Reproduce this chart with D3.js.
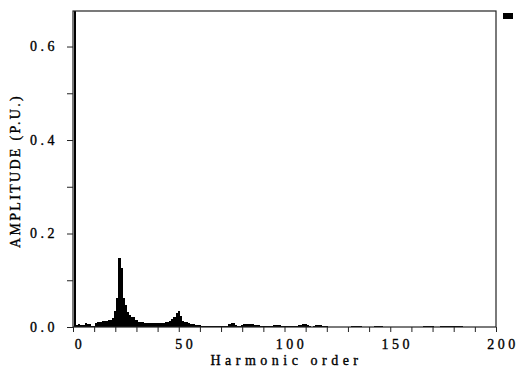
<!DOCTYPE html>
<html>
<head>
<meta charset="utf-8">
<script src="https://cdn.jsdelivr.net/npm/d3@7"></script>
<style>
  body { margin: 0; background: #fff; }
  text { font-family: "Liberation Serif", "DejaVu Serif", serif; fill: #000; stroke: #000; stroke-width: 0.35px; }
</style>
</head>
<body>
<div id="chart"></div>
<script>
// harmonic amplitudes (p.u.), order 1 .. 200
var amplitude = [
  1.0, 0.005, 0.006, 0.005, 0.005, 0.008, 0.006, 0.007, 0.002, 0.002,
  0.009, 0.010, 0.010, 0.012, 0.012, 0.012, 0.014, 0.015, 0.020, 0.035,
  0.062, 0.148, 0.127, 0.061, 0.047, 0.033, 0.026, 0.022, 0.022, 0.015,
  0.011, 0.011, 0.010, 0.009, 0.009, 0.008, 0.009, 0.008, 0.008, 0.008,
  0.008, 0.008, 0.009, 0.010, 0.010, 0.012, 0.017, 0.022, 0.029, 0.034,
  0.023, 0.013, 0.011, 0.011, 0.008, 0.006, 0.006, 0.004, 0.004, 0.004,
  0.003, 0.003, 0.0015, 0.0015, 0.0015, 0.0015, 0.0015, 0.0015, 0.0015, 0.002,
  0.002, 0.002, 0.003, 0.006, 0.009, 0.008, 0.005, 0.0015, 0.0015, 0.005,
  0.006, 0.006, 0.006, 0.006, 0.006, 0.005, 0.005, 0.004, 0.003, 0.003,
  0.003, 0.003, 0.003, 0.003, 0.005, 0.005, 0.005, 0.004, 0.002, 0.002,
  0.002, 0.003, 0.003, 0.003, 0.003, 0.002, 0.004, 0.005, 0.006, 0.006,
  0.004, 0.003, 0.001, 0.003, 0.004, 0.004, 0.004, 0.003, 0.003, 0.002,
  0.0005, 0.0005, 0.0005, 0.0005, 0.0005, 0.0005, 0.0005, 0.0005, 0.0005, 0.0005,
  0.0005, 0.002, 0.002, 0.002, 0.002, 0.002, 0.001, 0.0005, 0.0005, 0.0005,
  0.0005, 0.0005, 0.002, 0.002, 0.002, 0.002, 0.0008, 0.0008, 0.0008, 0.0008,
  0.0008, 0.0008, 0.0008, 0.0008, 0.0008, 0.0008, 0.0008, 0.0008, 0.0008, 0.0008,
  0.0008, 0.0008, 0.0008, 0.0008, 0.0008, 0.003, 0.003, 0.003, 0.003, 0.003,
  0.0005, 0.0005, 0.0005, 0.0015, 0.0015, 0.0015, 0.0015, 0.0015, 0.0015, 0.0015,
  0.0015, 0.0015, 0.0015, 0.0015, 0, 0, 0, 0, 0, 0,
  0, 0, 0, 0, 0, 0, 0, 0, 0, 0
];
var orders = amplitude.map((d, i) => i + 1);

var xTicks = [0, 10, 20, 30, 40, 50, 60, 70, 80, 90, 100, 110, 120, 130, 140, 150, 160, 170, 180, 190, 200];
var xLabels = [0, 50, 100, 150, 200];
var yTicks = [0, 0.1, 0.2, 0.3, 0.4, 0.5, 0.6];
var yLabels = [0, 0.2, 0.4, 0.6];

var svgWidth = 518;
var svgHeight = 369;
var margin = { top: 11, right: 22, bottom: 42, left: 73 };
var width = svgWidth - margin.left - margin.right;
var height = svgHeight - margin.top - margin.bottom;

var svg = d3.select("#chart")
  .append("svg")
  .attr("width", svgWidth)
  .attr("height", svgHeight);

var chartGroup = svg.append("g")
  .attr("transform", `translate(${margin.left}, ${margin.top})`);

var xScale = d3.scaleLinear().domain([0, 200]).range([0, width]);
var yScale = d3.scaleLinear().domain([0, 0.676]).range([height, 0]);

svg.append("defs").append("clipPath")
  .attr("id", "plotClip")
  .append("rect")
  .attr("width", width)
  .attr("height", height);

// bars
chartGroup.append("g")
  .attr("clip-path", "url(#plotClip)")
  .selectAll("rect")
  .data(orders)
  .enter()
  .append("rect")
  .attr("x", d => xScale(d - 0.5))
  .attr("width", xScale(1) - xScale(0))
  .attr("y", (d, i) => yScale(amplitude[i]))
  .attr("height", (d, i) => height - yScale(amplitude[i]))
  .attr("fill", "#000")
  .attr("shape-rendering", "crispEdges");

// frame
chartGroup.append("rect")
  .attr("width", width)
  .attr("height", height)
  .attr("fill", "none")
  .attr("stroke", "#222")
  .attr("stroke-width", 1.2);

// x axis
var xAxis = chartGroup.append("g")
  .attr("transform", `translate(0, ${height})`)
  .call(d3.axisBottom(xScale).tickValues(xTicks).tickSize(5).tickFormat(""));
xAxis.select(".domain").remove();
xAxis.selectAll("line").attr("stroke", "#222");

chartGroup.append("g")
  .selectAll("text")
  .data(xLabels)
  .enter()
  .append("text")
  .attr("x", d => xScale(d) + 7)
  .attr("y", height + 22)
  .attr("text-anchor", "middle")
  .style("font-size", "14px")
  .style("letter-spacing", "3.5px")
  .text(d => d);

// y axis
var yAxis = chartGroup.append("g")
  .call(d3.axisLeft(yScale).tickValues(yTicks).tickSize(6).tickFormat(""));
yAxis.select(".domain").remove();
yAxis.selectAll("line").attr("stroke", "#222");

chartGroup.append("g")
  .selectAll("text")
  .data(yLabels)
  .enter()
  .append("text")
  .attr("x", -15)
  .attr("y", d => yScale(d))
  .attr("dy", "0.35em")
  .attr("text-anchor", "end")
  .style("font-size", "14px")
  .style("letter-spacing", "3.5px")
  .text(d => d3.format(".1f")(d));

// axis titles
svg.append("text")
  .attr("x", margin.left + width / 2 + 2)
  .attr("y", 365)
  .attr("text-anchor", "middle")
  .style("font-size", "14px")
  .style("letter-spacing", "4.5px")
  .text("Harmonic order");

svg.append("text")
  .attr("transform", `translate(20, ${margin.top + height / 2 + 2}) rotate(-90)`)
  .attr("text-anchor", "middle")
  .style("font-size", "14px")
  .style("letter-spacing", "2.3px")
  .text("AMPLITUDE (P.U.)");

// legend swatch
svg.append("rect")
  .attr("x", 503)
  .attr("y", 13)
  .attr("width", 10)
  .attr("height", 6)
  .attr("fill", "#000");
</script>
</body>
</html>
